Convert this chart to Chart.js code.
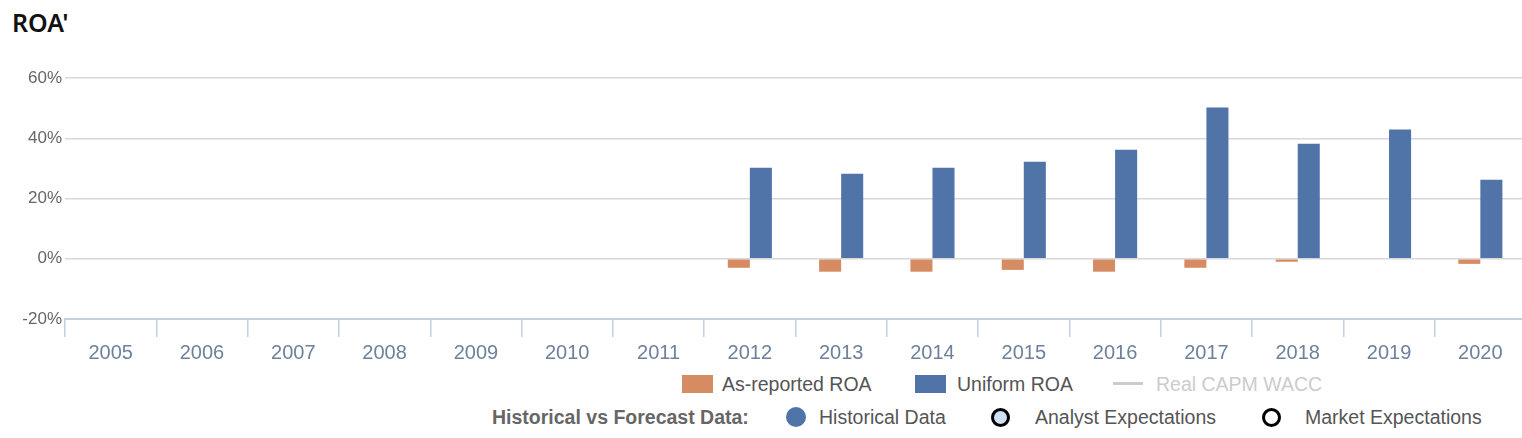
<!DOCTYPE html>
<html>
<head>
<meta charset="utf-8">
<script src="https://cdn.jsdelivr.net/npm/chart.js@4/dist/chart.umd.min.js"></script>
<style>
    body { margin: 0; background: #fff; width: 1522px; height: 438px; overflow: hidden; position: relative; font-family: "Liberation Sans", Arial, sans-serif; }
    #title { position: absolute; left: 12px; top: 5px; font-family: "Noto Sans", sans-serif; font-weight: 600; font-size: 25px; color: #111; line-height: 34px; }
    #wrap { position: absolute; left: 0; top: 40px; width: 1522px; height: 330px; overflow: hidden; }
    .lg { position: absolute; font-size: 19.5px; line-height: 22px; color: #555; white-space: nowrap; }
    .sw { position: absolute; }
</style>
</head>
<body>
<div id="title">ROA'</div>
<div id="wrap"><canvas id="roaChart" width="1526" height="330"></canvas></div>

<!-- legenda linha 1 -->
<div class="sw" style="left:682px;top:375px;width:31px;height:18px;background:#d68b62"></div>
<div class="lg" style="left:722px;top:373px">As-reported ROA</div>
<div class="sw" style="left:915px;top:375px;width:31px;height:18px;background:#5073a8"></div>
<div class="lg" style="left:957px;top:373px">Uniform ROA</div>
<div class="sw" style="left:1113px;top:382px;width:30px;height:3px;background:#cccccc"></div>
<div class="lg" style="left:1156px;top:373px;color:#cccccc">Real CAPM WACC</div>

<!-- legenda linha 2 -->
<div class="lg" style="left:492px;top:406px;font-weight:bold;color:#666">Historical vs Forecast Data:</div>
<div class="sw" style="left:786px;top:407px;width:20px;height:20px;border-radius:50%;background:#5073a8"></div>
<div class="lg" style="left:819px;top:406px">Historical Data</div>
<div class="sw" style="left:991px;top:408px;width:13px;height:13px;border-radius:50%;background:#cde0f5;border:3px solid #000"></div>
<div class="lg" style="left:1035px;top:406px">Analyst Expectations</div>
<div class="sw" style="left:1262px;top:408px;width:13px;height:13px;border-radius:50%;background:#fff;border:3px solid #000"></div>
<div class="lg" style="left:1305px;top:406px">Market Expectations</div>

<script>
var years = ['2005', '2006', '2007', '2008', '2009', '2010', '2011', '2012', '2013', '2014', '2015', '2016', '2017', '2018', '2019', '2020'];
var asReportedRoa = [null, null, null, null, null, null, null, -3.0, -4.3, -4.3, -3.7, -4.3, -3.0, -1.0, 0, -1.7];
var uniformRoa = [null, null, null, null, null, null, null, 30.2, 28.2, 30.2, 32.2, 36.2, 50.2, 38.2, 42.9, 26.2];
var yTicks = [-20, 0, 20, 40, 60];

var roaChart = null;

function renderRoa() {
    var ctx = document.getElementById('roaChart');
    if (roaChart) roaChart.destroy();
    roaChart = new Chart(ctx, {
        type: 'bar',
        data: {
            labels: years,
            datasets: [{
                label: 'As-reported ROA',
                data: asReportedRoa,
                backgroundColor: '#d68b62',
                barPercentage: 1,
                categoryPercentage: 0.483
            }, {
                label: 'Uniform ROA',
                data: uniformRoa,
                backgroundColor: '#5073a8',
                barPercentage: 1,
                categoryPercentage: 0.483
            }]
        },
        options: {
            responsive: false,
            animation: false,
            layout: { padding: { top: 38, right: 0, left: 0, bottom: 0 } },
            plugins: {
                legend: { display: false },
                tooltip: {
                    callbacks: {
                        label: function(context) {
                            return context.dataset.label + ': ' + context.raw.toFixed(1) + '%';
                        }
                    }
                }
            },
            scales: {
                x: {
                    offset: true,
                    grid: {
                        offset: true,
                        drawOnChartArea: false,
                        drawTicks: true,
                        tickLength: 18,
                        color: '#c4d0e0',
                        lineWidth: 1.5
                    },
                    border: { display: true, color: '#c4d0e0', width: 2 },
                    ticks: {
                        color: '#6e819c',
                        font: { family: 'Liberation Sans', size: 20 },
                        padding: 4,
                        maxRotation: 0
                    },
                    afterFit: function(scale) { scale.height = 51; }
                },
                y: {
                    min: yTicks[0],
                    max: yTicks[yTicks.length - 1],
                    afterBuildTicks: function(scale) {
                        scale.ticks = yTicks.map(function(v) { return { value: v }; });
                    },
                    grid: {
                        drawTicks: false,
                        color: function(c) { return c.tick && c.tick.value === yTicks[0] ? 'rgba(0,0,0,0)' : '#d8d8d8'; },
                        lineWidth: 1.5
                    },
                    border: { display: false },
                    ticks: {
                        color: '#666666',
                        font: { family: 'Liberation Sans', size: 17 },
                        padding: 3,
                        callback: function(value) { return value + '%'; }
                    },
                    afterFit: function(scale) { scale.width = 65; }
                }
            }
        }
    });
}

document.addEventListener('DOMContentLoaded', renderRoa);
</script>
</body>
</html>
